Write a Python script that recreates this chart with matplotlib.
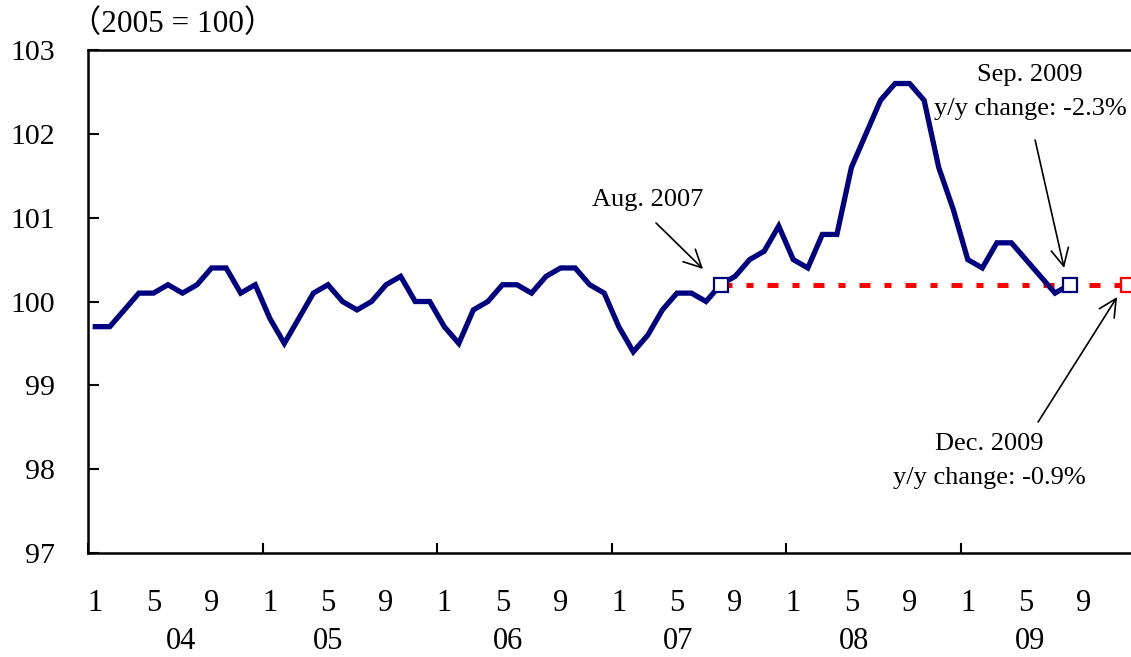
import matplotlib
matplotlib.use("Agg")
import matplotlib.pyplot as plt
import numpy as np

plt.rcParams['font.family'] = ['Liberation Serif', 'Noto Sans CJK JP', 'DejaVu Sans']

# ---- data (monthly index, 2005 = 100), Jan 2004 .. Aug 2009 ----
years = ['04', '05', '06', '07', '08', '09']
month_labels = ['1', '5', '9']
month_label_months = [1, 5, 9]
values = [
    # 2004
    99.7, 99.7, 99.9, 100.1, 100.1, 100.2, 100.1, 100.2, 100.4, 100.4, 100.1, 100.2,
    # 2005
    99.8, 99.5, 99.8, 100.1, 100.2, 100.0, 99.9, 100.0, 100.2, 100.3, 100.0, 100.0,
    # 2006
    99.7, 99.5, 99.9, 100.0, 100.2, 100.2, 100.1, 100.3, 100.4, 100.4, 100.2, 100.1,
    # 2007
    99.7, 99.4, 99.6, 99.9, 100.1, 100.1, 100.0, 100.2, 100.3, 100.5, 100.6, 100.9,
    # 2008
    100.5, 100.4, 100.8, 100.8, 101.6, 102.0, 102.4, 102.6, 102.6, 102.4, 101.6, 101.1,
    # 2009
    100.5, 100.4, 100.7, 100.7, 100.5, 100.3, 100.1, 100.2,
]
ref_value = 100.2          # level of Aug. 2007, carried to Dec. 2009
ref_start = 43             # Aug. 2007 (month index)
ref_end = 71               # Dec. 2009 (month index)
last_point = 67            # marker labelled "Sep. 2009"
title_text = '（2005 = 100）'
label_aug = 'Aug. 2007'
label_sep = 'Sep. 2009\ny/y change: -2.3%'
label_dec = 'Dec. 2009\ny/y change: -0.9%'

W, H = 1131, 657
fig = plt.figure(figsize=(W / 100, H / 100), dpi=100)
ax = fig.add_axes([88 / W, 1 - 553 / H, (1135 - 88) / W, 503 / H])

x = np.arange(len(values))
navy = '#000080'
red = '#FF0000'

ax.plot([ref_start, ref_end], [ref_value, ref_value], color=red, lw=3.6,
        dashes=[2.2, 2.8, 1.4, 2.8], zorder=2, solid_capstyle='butt')
ax.plot(x, values, color=navy, lw=3.8, zorder=3, solid_joinstyle='miter')
ax.plot([ref_start, last_point], [values[ref_start], values[last_point]], ls='none',
        marker='s', ms=10, mfc='white', mec=navy, mew=1.6, zorder=4)
ax.plot([ref_end], [ref_value], ls='none', marker='s', ms=10, mfc='white',
        mec=red, mew=1.6, zorder=4, clip_on=False)

ax.set_xlim(-0.5, 71.5)
ax.set_ylim(97, 103)

# axes styling
for s in ['left', 'bottom', 'top']:
    ax.spines[s].set_linewidth(1.8)
ax.spines['right'].set_visible(False)

ax.set_yticks(np.arange(97, 104, 1))
ax.tick_params(axis='y', direction='in', length=8, width=1.5, labelsize=21.5, pad=24)

# year boundary ticks (major, no labels)
ax.set_xticks(np.arange(-0.5, 72, 12))
ax.set_xticklabels([])
ax.tick_params(axis='x', which='major', direction='in', length=7, width=1.5)

# month labels as minor ticks
minor_pos = [12 * i + (m - 1) for i in range(len(years)) for m in month_label_months]
minor_lab = [month_labels[j] for i in range(len(years)) for j in range(len(month_labels))]
ax.set_xticks(minor_pos, minor=True)
ax.set_xticklabels(minor_lab, minor=True)
ax.tick_params(axis='x', which='minor', length=0, labelsize=22, pad=26)

# year labels (placed under each year's span, as in the original layout)
year_offsets = [0.4, -1.5, -1.15, -1.4, -1.3, -1.2]
xt = ax.get_xaxis_transform()
for i, yl in enumerate(years):
    ax.text(12 * i + 5.5 + year_offsets[i], -0.19, yl, transform=xt, ha='center',
            va='baseline', fontsize=22)

# title
fig.text(70 / W, 1 - 24 / H, title_text, ha='left', va='center', fontsize=22.5)

# annotations
def px2data(px, py):
    return ((px - 88) / 14.54 - 0.5, 103 - (py - 50) / 83.83)

arrow_kw = dict(arrowstyle='->,head_length=0.6,head_width=0.3', lw=1.2,
                color='black', mutation_scale=21, shrinkA=0, shrinkB=0)

ax.text(*px2data(648, 200), label_aug, ha='center', va='center', fontsize=19)
ax.annotate('', xy=px2data(703, 269), xytext=px2data(656, 223), arrowprops=arrow_kw)

ax.text(*px2data(1030, 92), label_sep, ha='center', va='center', fontsize=19,
        linespacing=1.65)
ax.annotate('', xy=px2data(1064, 268), xytext=px2data(1035, 140), arrowprops=arrow_kw)

ax.text(*px2data(989, 461), label_dec, ha='center', va='center', fontsize=19,
        linespacing=1.65)
ax.annotate('', xy=px2data(1117, 297), xytext=px2data(1038, 422), arrowprops=arrow_kw,
            annotation_clip=False)

fig.savefig('out.png', dpi=100)
